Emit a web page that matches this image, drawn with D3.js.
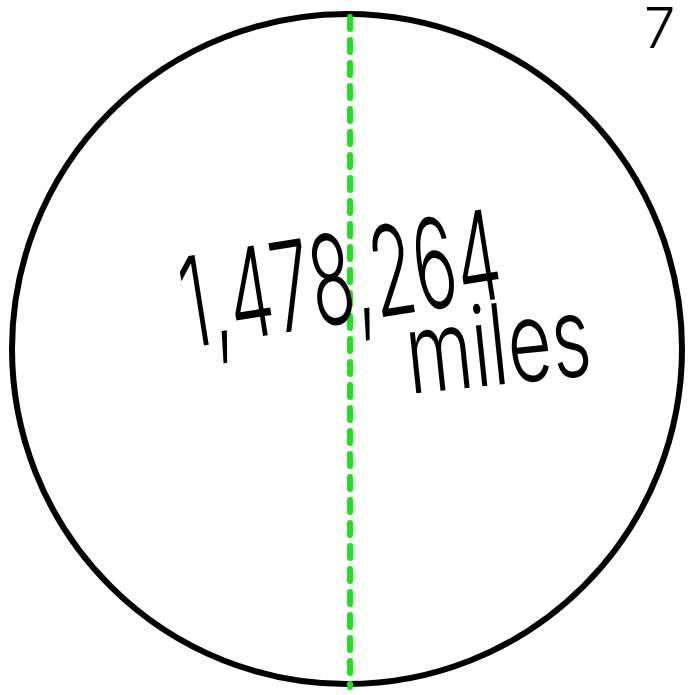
<!DOCTYPE html>
<html>
<head>
<meta charset="utf-8">
<script src="https://cdn.jsdelivr.net/npm/d3@7"></script>
<style>
  body { margin: 0; background: #fff; }
  svg { display: block; }
</style>
</head>
<body>
<div id="chart"></div>
<script>
// diameter figure written across the circle
var diameterMiles = [1478264];
var diameterLabels = ["1,478,264"];
var unitLabels = ["miles"];
var cornerMarks = ["7"];

var width = 689, height = 695;
var cx = 347, cy = 349, r = 335;

var svg = d3.select("#chart").append("svg")
    .attr("width", width)
    .attr("height", height);

// scale from miles to pixels along the diameter
var y = d3.scaleLinear()
    .domain([0, diameterMiles[0]])
    .range([cy - r - 3, cy + r + 3]);

svg.append("circle")
    .attr("cx", cx)
    .attr("cy", cy)
    .attr("r", r)
    .attr("fill", "none")
    .attr("stroke", "#000")
    .attr("stroke-width", 6);

svg.selectAll(".diam")
    .data(diameterMiles)
    .enter().append("line")
    .attr("class", "diam")
    .attr("x1", 350)
    .attr("x2", 350)
    .attr("y1", function(d){ return y(0) + 6; })
    .attr("y2", function(d){ return y(d); })
    .attr("stroke", "#17e617")
    .attr("stroke-width", 6)
    .attr("stroke-linecap", "round")
    .attr("stroke-dasharray", "12,11");

var handFont = "Inter, 'DejaVu Sans'";

svg.selectAll(".num")
    .data(diameterLabels)
    .enter().append("text")
    .attr("class", "num")
    .attr("transform", "translate(188,348) rotate(-9)")
    .attr("font-family", handFont)
    .attr("font-size", 125)
    .attr("font-weight", 300)
    .attr("textLength", 322)
    .attr("lengthAdjust", "spacingAndGlyphs")
    .attr("fill", "#000")
    .text(function(d){ return d; });

svg.selectAll(".unit")
    .data(unitLabels)
    .enter().append("text")
    .attr("class", "unit")
    .attr("transform", "translate(410,394) rotate(-6)")
    .attr("font-family", handFont)
    .attr("font-size", 112)
    .attr("font-weight", 300)
    .attr("textLength", 185)
    .attr("lengthAdjust", "spacingAndGlyphs")
    .attr("fill", "#000")
    .text(function(d){ return d; });

svg.selectAll(".corner")
    .data(cornerMarks)
    .enter().append("text")
    .attr("class", "corner")
    .attr("x", 644)
    .attr("y", 48)
    .attr("font-family", handFont)
    .attr("font-size", 56)
    .attr("font-weight", 300)
    .attr("fill", "#000")
    .text(function(d){ return d; });
</script>
</body>
</html>
